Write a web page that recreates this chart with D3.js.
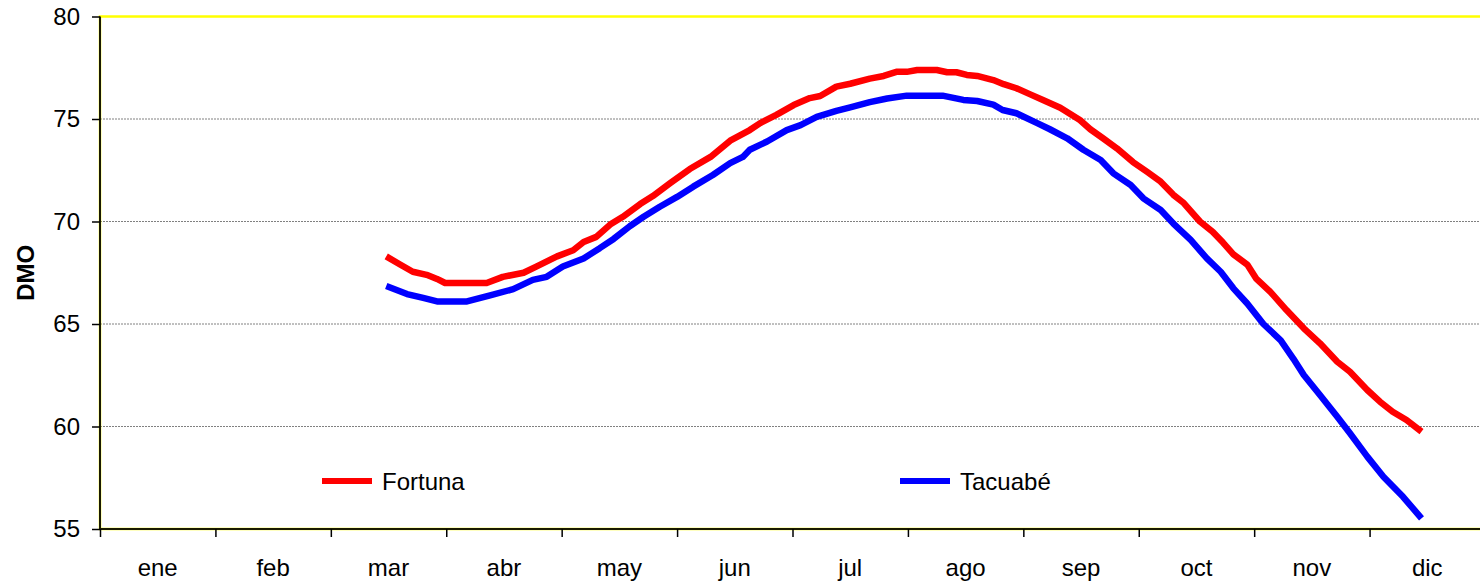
<!DOCTYPE html>
<html>
<head>
<meta charset="utf-8">
<script src="https://cdn.jsdelivr.net/npm/d3@7"></script>
<style>
  html, body { margin: 0; padding: 0; background: #fff; }
  svg { display: block; font-family: Arial, "Liberation Sans", sans-serif; }
</style>
</head>
<body>
<svg id="chart" width="1480" height="582"></svg>
<script>
// Month labels along the category axis
const months = ["ene", "feb", "mar", "abr", "may", "jun", "jul", "ago", "sep", "oct", "nov", "dic"];
// Y axis ticks
const yTicks = [55, 60, 65, 70, 75, 80];

// Fortuna: position in months (0 = start of ene) and DMO value
const fortunaMonth = [2.48, 2.60, 2.71, 2.83, 2.92, 2.99, 3.17, 3.35, 3.49, 3.67, 3.78, 3.96, 4.10, 4.19, 4.30,
  4.42, 4.53, 4.68, 4.79, 4.94, 5.11, 5.29, 5.46, 5.63, 5.72, 5.86, 6.01, 6.15, 6.24, 6.38, 6.50, 6.67, 6.79,
  6.90, 6.99, 7.08, 7.25, 7.34, 7.42, 7.51, 7.60, 7.74, 7.83, 7.94, 8.06, 8.17, 8.32, 8.49, 8.58, 8.69, 8.81,
  8.95, 9.07, 9.19, 9.30, 9.39, 9.53, 9.64, 9.73, 9.82, 9.94, 10.02, 10.14, 10.28, 10.43, 10.57, 10.72, 10.83,
  10.98, 11.09, 11.20, 11.32, 11.45];
const fortunaDMO = [68.3, 67.9, 67.55, 67.4, 67.2, 67.0, 67.0, 67.0, 67.3, 67.5, 67.8, 68.3, 68.6, 69.0, 69.25,
  69.85, 70.23, 70.85, 71.24, 71.87, 72.56, 73.15, 73.94, 74.46, 74.8, 75.2, 75.68, 76.02, 76.12, 76.58, 76.72, 76.97, 77.1,
  77.3, 77.3, 77.39, 77.39, 77.28, 77.28, 77.15, 77.1, 76.9, 76.7, 76.5, 76.2, 75.93, 75.55, 74.95, 74.5, 74.06, 73.57,
  72.9, 72.43, 71.94, 71.3, 70.9, 70.0, 69.5, 68.97, 68.4, 67.9, 67.2, 66.57, 65.68, 64.79, 64.06, 63.16, 62.67,
  61.78, 61.21, 60.72, 60.32, 59.75];

// Tacuabé: position in months and DMO value
const tacuabeMonth = [2.48, 2.66, 2.80, 2.92, 3.18, 3.38, 3.58, 3.75, 3.87, 4.01, 4.19, 4.33, 4.45, 4.59, 4.71,
  4.85, 5.00, 5.14, 5.31, 5.46, 5.57, 5.63, 5.78, 5.95, 6.07, 6.21, 6.38, 6.50, 6.67, 6.82, 6.99, 7.30, 7.48,
  7.60, 7.74, 7.82, 7.94, 8.12, 8.23, 8.38, 8.52, 8.67, 8.78, 8.93, 9.04, 9.19, 9.30, 9.45, 9.59, 9.71, 9.82,
  9.94, 10.08, 10.23, 10.34, 10.43, 10.57, 10.72, 10.83, 10.98, 11.12, 11.29, 11.45];
const tacuabeDMO = [66.85, 66.46, 66.27, 66.1, 66.1, 66.4, 66.7, 67.15, 67.3, 67.8, 68.2, 68.7, 69.15, 69.77, 70.23,
  70.72, 71.2, 71.7, 72.27, 72.85, 73.15, 73.5, 73.9, 74.46, 74.7, 75.1, 75.4, 75.57, 75.82, 76.0, 76.14, 76.14, 75.93,
  75.88, 75.7, 75.44, 75.28, 74.8, 74.5, 74.06, 73.5, 73.0, 72.35, 71.78, 71.13, 70.56, 69.9, 69.1, 68.2, 67.55, 66.74,
  66.0, 65.0, 64.2, 63.3, 62.51, 61.54, 60.48, 59.67, 58.53, 57.55, 56.57, 55.52];

const seriesNames = ["Fortuna", "Tacuabé"];
const seriesColors = ["#ff0000", "#0000ff"];

const svg = d3.select("#chart");
const plot = { left: 100, top: 16.5, right: 1485, bottom: 529 };

const x = d3.scaleLinear().domain([0, months.length]).range([plot.left, plot.right]);
const y = d3.scaleLinear().domain([55, 80]).range([plot.bottom, plot.top]);

// Dotted horizontal gridlines
svg.append("g")
  .selectAll("line")
  .data(yTicks.filter(v => v > 55 && v < 80))
  .join("line")
  .attr("x1", plot.left).attr("x2", plot.right)
  .attr("y1", d => y(d)).attr("y2", d => y(d))
  .attr("stroke", "#808080").attr("stroke-width", 1)
  .attr("stroke-dasharray", "2,1");

// Plot area border (yellow)
svg.append("rect")
  .attr("x", plot.left).attr("y", plot.top)
  .attr("width", plot.right - plot.left).attr("height", plot.bottom - plot.top)
  .attr("fill", "none").attr("stroke", "#ffff00").attr("stroke-width", 2.5);

// Y axis
const yAxis = svg.append("g")
  .attr("transform", `translate(${plot.left},0)`)
  .call(d3.axisLeft(y).tickValues(yTicks).tickSize(8).tickPadding(12).tickFormat(d3.format("d")));
yAxis.select(".domain").attr("stroke", "#1a1a00").attr("stroke-width", 2).attr("d", `M0,${plot.top}V${plot.bottom}`);
yAxis.selectAll(".tick line").attr("stroke", "#000").attr("stroke-width", 1.5);
yAxis.selectAll(".tick text").attr("font-size", 24).attr("fill", "#000")
  .attr("font-family", "Arial, 'Liberation Sans', sans-serif");

// X axis: ticks at month boundaries, labels centred in each month
const xAxis = svg.append("g")
  .attr("transform", `translate(0,${plot.bottom})`)
  .call(d3.axisBottom(x).tickValues(d3.range(0, months.length)).tickSize(8).tickFormat(""));
xAxis.select(".domain").attr("stroke", "#1a1a00").attr("stroke-width", 2).attr("d", `M${plot.left},0H${plot.right}`);
xAxis.selectAll(".tick line").attr("stroke", "#000").attr("stroke-width", 1.5);

svg.append("g")
  .selectAll("text")
  .data(months)
  .join("text")
  .attr("x", (d, i) => x(i + 0.5))
  .attr("y", 576)
  .attr("text-anchor", "middle")
  .attr("font-size", 24)
  .attr("fill", "#000")
  .text(d => d);

// Y axis title
svg.append("text")
  .attr("transform", `translate(34,${(plot.top + plot.bottom) / 2}) rotate(-90)`)
  .attr("text-anchor", "middle")
  .attr("font-size", 24)
  .attr("font-weight", "bold")
  .attr("fill", "#000")
  .text("DMO");

// Series lines
const line = d3.line().x(d => x(d[0])).y(d => y(d[1]));
const seriesData = [
  d3.zip(fortunaMonth, fortunaDMO),
  d3.zip(tacuabeMonth, tacuabeDMO)
];
svg.append("g")
  .selectAll("path")
  .data(seriesData)
  .join("path")
  .attr("d", line)
  .attr("fill", "none")
  .attr("stroke", (d, i) => seriesColors[i])
  .attr("stroke-width", 6.5)
  .attr("stroke-linejoin", "round");

// Legend
const legendX = [322, 900];
const legend = svg.append("g")
  .selectAll("g")
  .data(seriesNames)
  .join("g")
  .attr("transform", (d, i) => `translate(${legendX[i]},481)`);
legend.append("line")
  .attr("x1", 0).attr("x2", 50).attr("y1", 0).attr("y2", 0)
  .attr("stroke", (d, i) => seriesColors[i]).attr("stroke-width", 6);
legend.append("text")
  .attr("x", 60).attr("y", 0).attr("dy", "0.36em")
  .attr("font-size", 24).attr("fill", "#000")
  .text(d => d);
</script>
</body>
</html>
